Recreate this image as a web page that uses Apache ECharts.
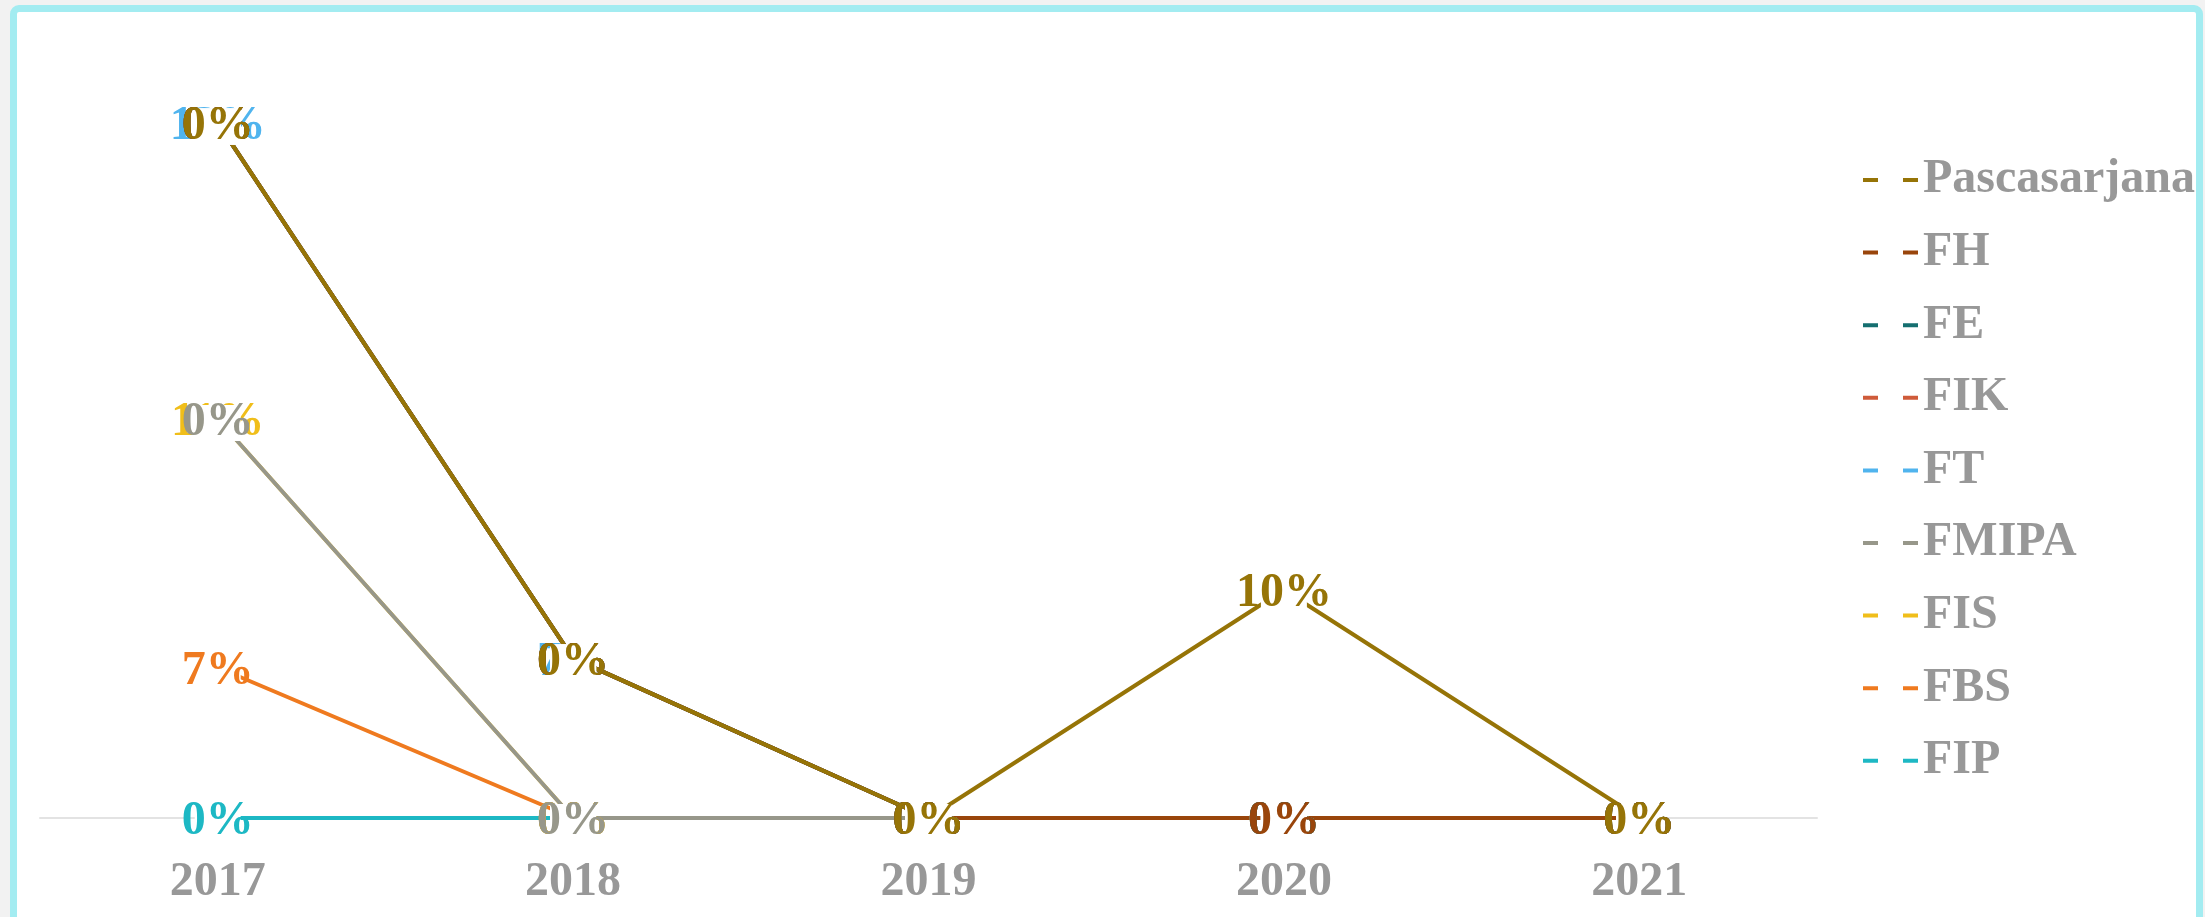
<!DOCTYPE html>
<html>
<head>
<meta charset="utf-8">
<script src="https://cdn.jsdelivr.net/npm/echarts@6/dist/echarts.min.js"></script>
<style>
  html, body { margin: 0; padding: 0; background: #f2f2f2; width: 2205px; height: 917px; overflow: hidden; }
  #frame { position: absolute; left: 10px; top: 5px; width: 2179px; height: 1000px; border: 7px solid #a3ecf1; border-radius: 9px; background: #fff; }
  #chart { position: absolute; left: 0; top: 0; width: 2205px; height: 917px; }
</style>
</head>
<body>
<div id="frame"></div>
<div id="chart"></div>
<script>
// Categories (years)
const years = ['2017', '2018', '2019', '2020', '2021'];

// Series values in percent (stacked line, bottom to top)
const FIP          = [0, 0, 0, 0, 0];
const FBS          = [6.6, 0, 0, 0, 0];
const FIS          = [10.9, 0, 0, 0, 0];
const FMIPA        = [0, 0, 0, 0, 0];
const FT           = [13.0, 7.0, 0, 0, 0];
const FIK          = [0, 0, 0, 0, 0];
const FE           = [0, 0, 0, 0, 0];
const FH           = [0, 0, 0, 0, 0];
const Pascasarjana = [0, 0, 0, 10.0, 0];

// Series names (stack order) and legend order
const seriesNames = ['FIP', 'FBS', 'FIS', 'FMIPA', 'FT', 'FIK', 'FE', 'FH', 'Pascasarjana'];
const seriesData  = [FIP, FBS, FIS, FMIPA, FT, FIK, FE, FH, Pascasarjana];
const legendOrder = ['Pascasarjana', 'FH', 'FE', 'FIK', 'FT', 'FMIPA', 'FIS', 'FBS', 'FIP'];

const colors = {
  FIP: '#1db8c4',
  FBS: '#ef7a1f',
  FIS: '#f0be1a',
  FMIPA: '#97978a',
  FT: '#50b4ee',
  FIK: '#cf5b3a',
  FE: '#156f70',
  FH: '#99450b',
  Pascasarjana: '#967407'
};

const FONT = "'Liberation Serif', 'DejaVu Serif', serif";

const chart = echarts.init(document.getElementById('chart'), null, { renderer: 'canvas' });

const series = seriesNames.map((name, i) => ({
  name: name,
  type: 'line',
  stack: 'total',
  data: seriesData[i],
  symbol: 'circle',
  symbolSize: 0.01,
  showSymbol: true,
  itemStyle: { color: colors[name] },
  lineStyle: { color: colors[name], width: 4 },
  emphasis: { disabled: true },
  label: {
    show: true,
    position: 'inside',
    offset: [0, 4],
    formatter: p => Math.round(p.value) + '%',
    color: colors[name],
    fontFamily: FONT,
    fontWeight: 'bold',
    fontSize: 48,
    backgroundColor: '#fff',
    width: 46,
    height: 36,
    lineHeight: 36,
    align: 'center',
    verticalAlign: 'middle'
  },
  z: 2
}));

chart.setOption({
  animation: false,
  backgroundColor: 'transparent',
  grid: { left: 40, right: 388, top: 20, bottom: 99, containLabel: false },
  xAxis: {
    type: 'category',
    data: years,
    boundaryGap: true,
    axisLine: { show: true, lineStyle: { color: '#e3e3e3', width: 2 } },
    axisTick: { show: false },
    splitLine: { show: false },
    axisLabel: {
      color: '#989898',
      fontFamily: FONT,
      fontWeight: 'bold',
      fontSize: 48,
      margin: 41
    }
  },
  yAxis: {
    type: 'value',
    min: 0,
    max: 35,
    show: false,
    splitLine: { show: false }
  },
  legend: {
    orient: 'vertical',
    left: 1858,
    top: 150,
    data: legendOrder,
    icon: 'path://M0,0h15v4h-15z M40,0h15v4h-15z',
    itemWidth: 55,
    itemHeight: 4,
    itemGap: 22.6,
    selectedMode: false,
    textStyle: {
      color: '#989898',
      fontFamily: FONT,
      fontWeight: 'bold',
      fontSize: 48,
      lineHeight: 50,
      padding: [0, 0, 0, 0]
    }
  },
  series: series
});
</script>
</body>
</html>
